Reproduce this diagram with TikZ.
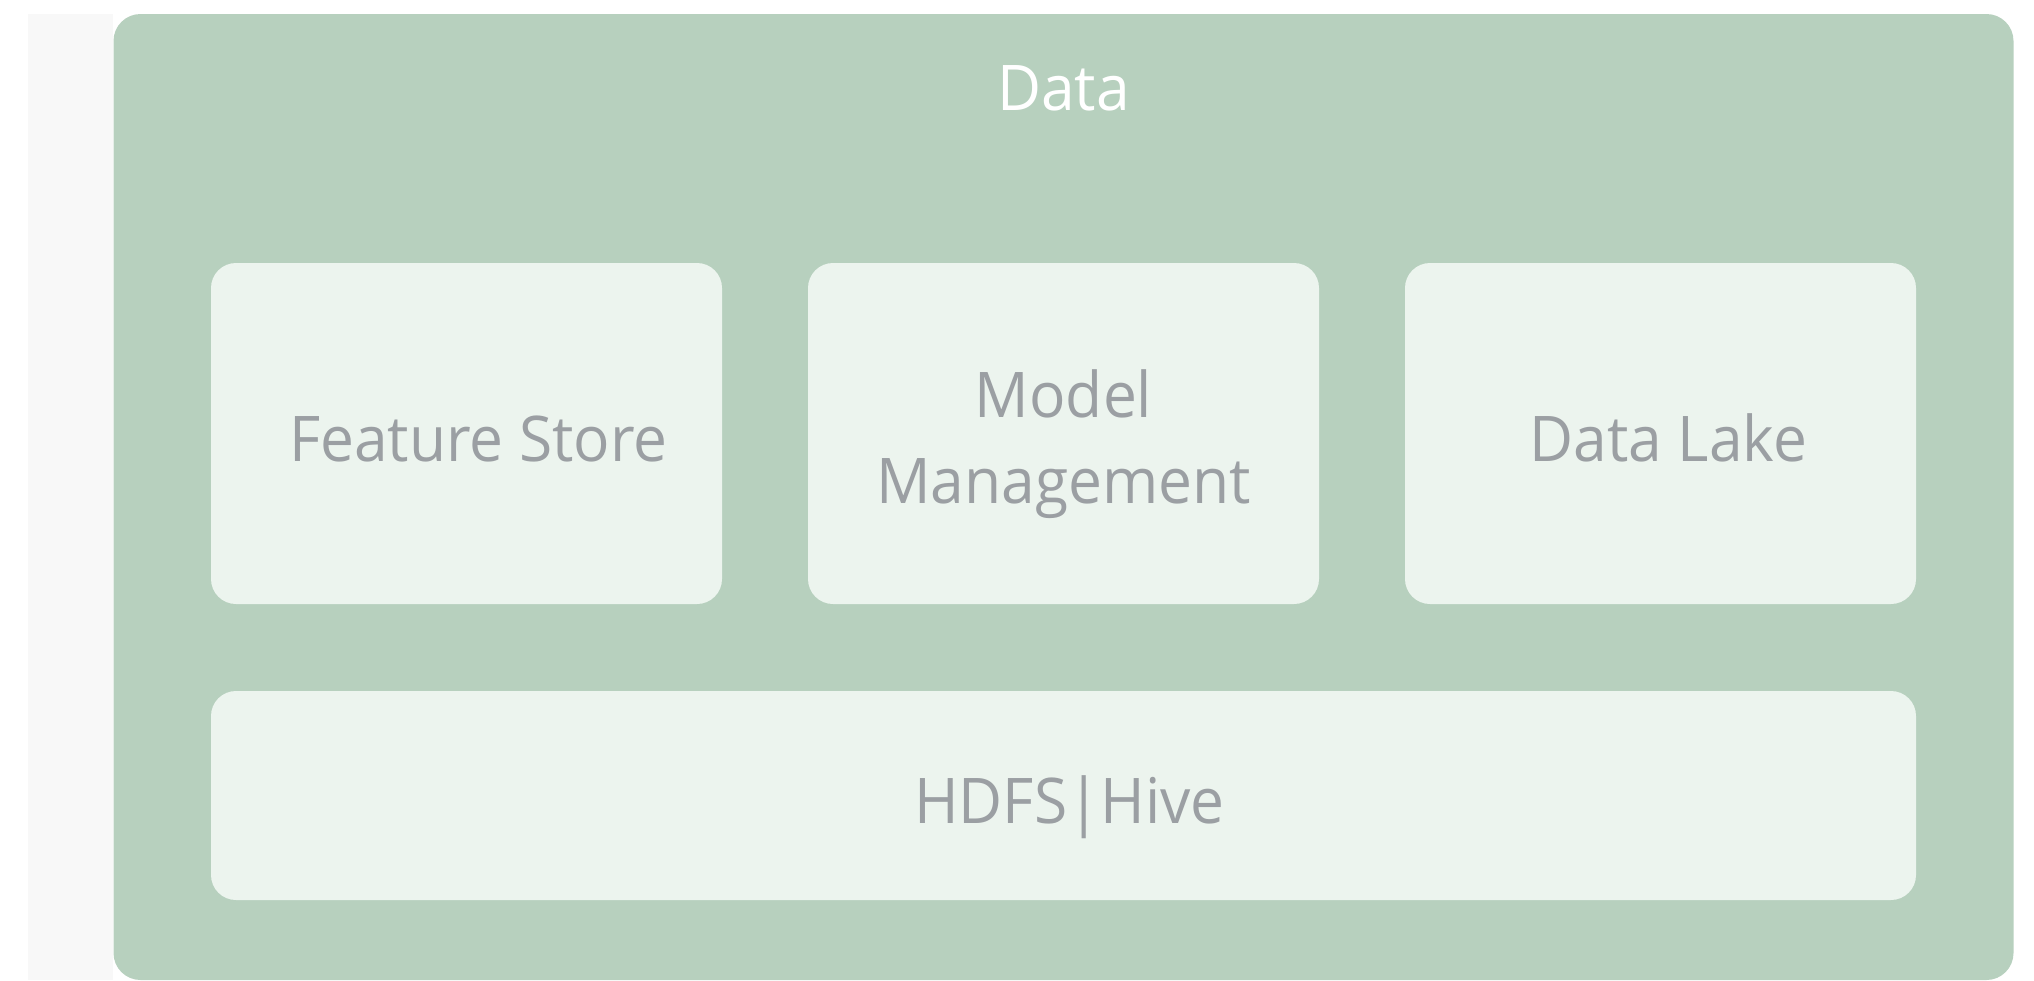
\documentclass[tikz,border=0pt]{standalone}
\usepackage{fontspec}
\setmainfont[FakeStretch=0.96]{Open Sans}
\definecolor{layergreen}{HTML}{B7D0BE}
\definecolor{cardfill}{HTML}{ECF4EE}
\definecolor{cardtext}{HTML}{9B9FA3}
\definecolor{sidestrip}{HTML}{F8F8F8}
\begin{document}
\begin{tikzpicture}[x=1pt,y=-1pt,
  layer/.style={fill=layergreen, rounded corners=27pt, inner sep=0pt, outer sep=0pt, draw=none},
  card/.style={fill=cardfill, rounded corners=25pt, inner sep=0pt, outer sep=0pt, draw=none},
  cardlabel/.style={text=cardtext, anchor=base, inner sep=0pt, font=\fontsize{63}{86}\selectfont},
  title/.style={text=white, anchor=base, inner sep=0pt, font=\fontsize{63}{86}\selectfont}]
  \useasboundingbox (0,0) rectangle (2034,980);
  \fill[white] (0,0) rectangle (2034,980);
  % neighbouring column, cut off at the left edge
  \fill[sidestrip] (28,14) rectangle (113,980);
  % the data layer
  \node[layer, minimum width=1900pt, minimum height=966pt] (data) at (1063.5,497) {};
  \node[title] (datatitle) at (data.north |- 0,110) {Data};
  % components
  \node[card, minimum width=511pt, minimum height=341pt] (fs) at (466.5,433.5) {};
  \node[card, minimum width=511pt, minimum height=341pt] (mm) at (1063.5,433.5) {};
  \node[card, minimum width=511pt, minimum height=341pt] (dl) at (1660.5,433.5) {};
  \node[card, minimum width=1705pt, minimum height=209pt] (hdfs) at (1063.5,795.5) {};
  % their labels
  \node[cardlabel, xshift=12pt] (fstext) at (fs.north |- 0,461) {Feature Store};
  \node[cardlabel] (mmtext) at (mm.north |- 0,417)
    {\begin{tabular}[t]{@{}c@{}}Model\\Management\end{tabular}};
  \node[cardlabel, xshift=8pt] (dltext) at (dl.north |- 0,461) {Data Lake};
  \node[cardlabel, xshift=6pt] (hdfstext) at (hdfs.north |- 0,823) {HDFS|Hive};
\end{tikzpicture}
\end{document}
